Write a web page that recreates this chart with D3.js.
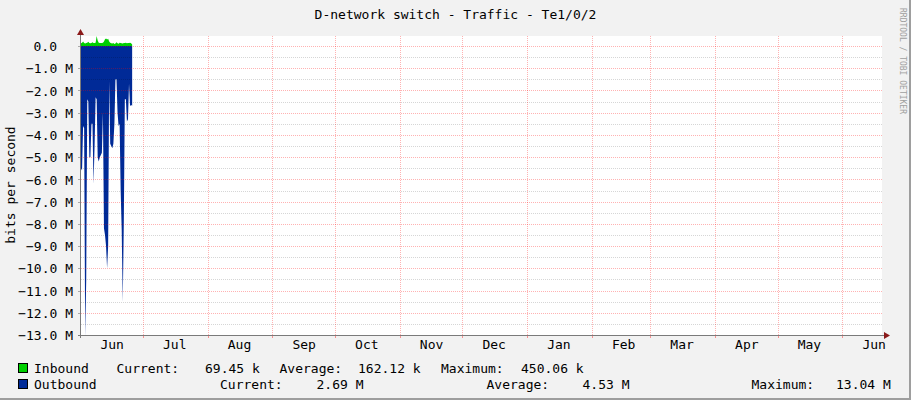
<!DOCTYPE html>
<html>
<head>
<meta charset="utf-8">
<script src="https://cdn.jsdelivr.net/npm/d3@7"></script>
<style>
  body { margin: 0; background: #f2f2f2; }
  svg text { font-family: "DejaVu Sans Mono", monospace; }
</style>
</head>
<body>
<div class="chart"></div>
<script>
// samples every 12h starting at the left edge of the graph
const sampleStart = new Date(2022, 5, 1, 8);
const stepHours = 12;

// inbound, kbit/s
const inbound = [120, 150, 200, 130, 110, 130, 150, 190, 140, 120,
                 130, 170, 140, 130, 150, 450, 250, 150, 140, 130,
                 130, 150, 200, 300, 340, 290, 330, 200, 150, 120,
                 110, 130, 90, 110, 170, 120, 100, 150, 140, 120,
                 110, 140, 130, 150, 120, 140, 130, 150, 120, 69.45];

// outbound, Mbit/s (drawn below zero)
const outbound = [5.5, 5.6, 3.6, 3.7, 13.04, 10.5, 2.4, 2.5, 5.0, 5.0,
                  3.5, 3.5, 6.2, 4.5, 2.3, 2.4, 5.0, 5.2, 5.0, 4.9,
                  4.8, 3.0, 8.2, 8.5, 9.0, 10.0, 9.0, 1.6, 4.4, 4.5,
                  4.6, 4.4, 3.5, 1.5, 1.5, 3.0, 3.6, 3.5, 6.5, 8.3,
                  11.5, 8.0, 2.4, 2.4, 3.4, 3.3, 1.7, 2.7, 2.65, 2.69];

const seriesNames = ["Inbound", "Outbound"];
const seriesColors = ["#00cf00", "#002a97"];
const currentVals = ["69.45 k", "2.69 M"];
const averageVals = ["162.12 k", "4.53 M"];
const maximumVals = ["450.06 k", "13.04 M"];

const yMajor = [0, -1, -2, -3, -4, -5, -6, -7, -8, -9, -10, -11, -12, -13];   // M
const yMinor = [-0.5, -1.5, -2.5, -3.5, -4.5, -5.5, -6.5, -7.5, -8.5, -9.5, -10.5, -11.5, -12.5];

const width = 911;
const height = 400;

const x = d3.scaleTime()
  .domain([new Date(2022, 5, 1, 8), new Date(2023, 5, 20)])
  .range([81, 882]);
const y = d3.scaleLinear()
  .domain([-13e6, 0.45e6])
  .range([335, 36]);

const tOf = i => new Date(sampleStart.getTime() + i * stepHours * 3600e3);

const svg = d3.select('.chart')
  .append('svg')
  .attr('width', width)
  .attr('height', height)
  .style('font-size', '13px');

svg.append('rect').attr('width', width).attr('height', height).attr('fill', '#f2f2f2');
svg.append('rect').attr('x', width - 2).attr('width', 2).attr('height', height).attr('fill', '#9e9e9e');
svg.append('rect').attr('y', height - 2).attr('width', width).attr('height', 2).attr('fill', '#9e9e9e');

// plot area
svg.append('rect')
  .attr('x', x.range()[0]).attr('y', y.range()[1])
  .attr('width', x.range()[1] - x.range()[0])
  .attr('height', y.range()[0] - y.range()[1])
  .attr('fill', '#fff');

// data
const inArea = d3.area()
  .x((d, i) => x(tOf(i)))
  .y0(y(0))
  .y1(d => y(d * 1e3));
const outArea = d3.area()
  .x((d, i) => x(tOf(i)))
  .y0(y(0))
  .y1(d => y(-d * 1e6));

svg.append('path').datum(inbound).attr('d', inArea).attr('fill', seriesColors[0]);
svg.append('path').datum(outbound).attr('d', outArea).attr('fill', seriesColors[1]);

// grid (drawn over data like rrdtool)
const grid = svg.append('g');
grid.selectAll('line.minor')
  .data(yMinor)
  .join('line')
  .attr('class', 'minor')
  .attr('x1', x.range()[0]).attr('x2', x.range()[1])
  .attr('y1', d => Math.round(y(d * 1e6)) + 0.5).attr('y2', d => Math.round(y(d * 1e6)) + 0.5)
  .attr('stroke', 'rgba(0,0,0,0.16)')
  .attr('stroke-dasharray', '1,1');
grid.selectAll('line.major')
  .data(yMajor)
  .join('line')
  .attr('class', 'major')
  .attr('x1', x.range()[0]).attr('x2', x.range()[1])
  .attr('y1', d => Math.round(y(d * 1e6)) + 0.5).attr('y2', d => Math.round(y(d * 1e6)) + 0.5)
  .attr('stroke', 'rgba(255,0,0,0.3)')
  .attr('stroke-dasharray', '1,1');
const months = d3.timeMonth.range(...x.domain());
grid.selectAll('line.vmajor')
  .data(months)
  .join('line')
  .attr('class', 'vmajor')
  .attr('x1', d => Math.round(x(d)) + 0.5).attr('x2', d => Math.round(x(d)) + 0.5)
  .attr('y1', y.range()[1]).attr('y2', y.range()[0])
  .attr('stroke', 'rgba(255,0,0,0.3)')
  .attr('stroke-dasharray', '1,1');

// y axis labels
const yAxis = d3.axisLeft(y)
  .tickValues(yMajor.map(v => v * 1e6))
  .tickSize(0)
  .tickPadding(0)
  .tickFormat(v => v === 0 ? '0.0' : d3.format('.1f')(v / 1e6) + ' M');
const gy = svg.append('g')
  .attr('transform', 'translate(73,0.5)')
  .call(yAxis);
gy.select('.domain').remove();
gy.selectAll('text')
  .attr('fill', '#000')
  .style('font-family', '"DejaVu Sans Mono", monospace')
  .style('font-size', '13px')
  .attr('x', d => d === 0 ? -16 : 0);

// x axis labels at mid-month
const midMonths = d3.timeMonth.range(new Date(2022, 5, 1), new Date(2023, 6, 1)).map(d => d3.timeDay.offset(d, 15));
const xAxis = d3.axisBottom(x)
  .tickValues(midMonths)
  .tickSize(0)
  .tickPadding(0)
  .tickFormat(d3.timeFormat('%b'));
const gx = svg.append('g')
  .attr('transform', 'translate(0,340)')
  .call(xAxis);
gx.select('.domain').remove();
gx.selectAll('text')
  .attr('fill', '#000')
  .attr('dy', '0.71em')
  .style('font-family', '"DejaVu Sans Mono", monospace')
  .style('font-size', '13px');

// tick marks
svg.append('g').selectAll('line')
  .data(months)
  .join('line')
  .attr('x1', d => Math.round(x(d)) + 0.5).attr('x2', d => Math.round(x(d)) + 0.5)
  .attr('y1', 335).attr('y2', 338)
  .attr('stroke', 'rgba(255,0,0,0.4)');
svg.append('g').selectAll('line')
  .data(yMajor)
  .join('line')
  .attr('x1', 78).attr('x2', 81)
  .attr('y1', d => Math.round(y(d * 1e6)) + 0.5).attr('y2', d => Math.round(y(d * 1e6)) + 0.5)
  .attr('stroke', 'rgba(120,120,120,0.6)');

// axis lines and arrows
svg.append('line')
  .attr('x1', 78).attr('x2', 885).attr('y1', 335.5).attr('y2', 335.5)
  .attr('stroke', '#7a7a7a');
svg.append('line')
  .attr('x1', 80.5).attr('x2', 80.5).attr('y1', 31).attr('y2', 338)
  .attr('stroke', '#7a7a7a');
svg.append('path').attr('d', 'M884,332L890,335.5L884,339Z').attr('fill', '#8b1a1a');
svg.append('path').attr('d', 'M77,35L80.5,29L84,35Z').attr('fill', '#8b1a1a');

// title
svg.append('text')
  .attr('x', 455.5).attr('y', 19)
  .attr('text-anchor', 'middle')
  .attr('fill', '#000')
  .text('D-network switch - Traffic - Te1/0/2');

// vertical label
svg.append('text')
  .attr('transform', 'translate(15,185) rotate(-90)')
  .attr('text-anchor', 'middle')
  .attr('fill', '#000')
  .text('bits per second');

// watermark
svg.append('text')
  .attr('transform', 'translate(900,8) rotate(90)')
  .attr('fill', '#a0a0a0')
  .style('font-size', '8px')
  .text('RRDTOOL / TOBI OETIKER');

// legend
const legendRows = [
  { y: 373, pos: [116.5, 205, 279.5, 358, 441, 521] },
  { y: 389, pos: [220, 316.5, 486.5, 582.5, 751.5, 836] }
];
legendRows.forEach((row, i) => {
  const g = svg.append('g');
  g.append('rect')
    .attr('x', 18.5).attr('y', row.y - 9.5)
    .attr('width', 9).attr('height', 9)
    .attr('fill', seriesColors[i])
    .attr('stroke', '#000');
  g.append('text').attr('x', 34).attr('y', row.y).text(seriesNames[i]);
  const parts = ['Current:', currentVals[i], 'Average:', averageVals[i], 'Maximum:', maximumVals[i]];
  parts.forEach((t, j) => {
    g.append('text').attr('x', row.pos[j]).attr('y', row.y).attr('fill', '#000').text(t);
  });
});
</script>
</body>
</html>
